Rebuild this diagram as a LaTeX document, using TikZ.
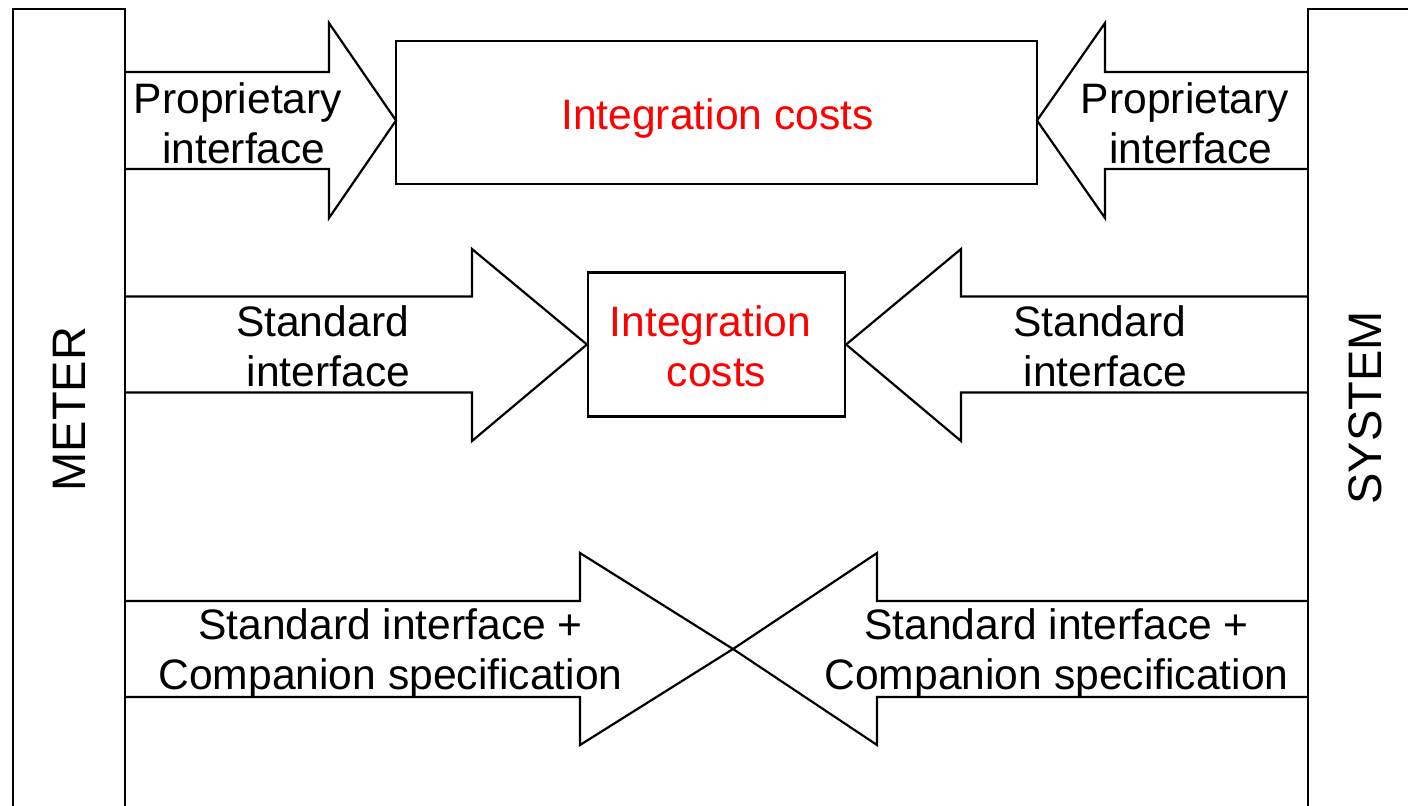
\documentclass[tikz,border=0pt]{standalone}
\usepackage{fontspec}
\setmainfont{Liberation Sans}
\begin{document}
\begin{tikzpicture}[x=0.5pt,y=-0.5pt,line width=1.1pt,line join=miter,
  lbl/.style={font=\fontsize{21.3}{25}\selectfont,align=center,inner sep=0pt,anchor=base},
  cost/.style={lbl,text=red},
  side/.style={font=\fontsize{23.5}{28}\selectfont,rotate=90,inner sep=0pt},
  costbox/.style={draw,inner sep=0pt}]
\useasboundingbox (0,0) rectangle (1408,805);
% bars
\draw (13,808) -- (13,9) -- (125,9) -- (125,808);
\draw (1308,808) -- (1308,9) -- (1412,9);
\node[side] (meter) at (69.5,409) {METER};
\node[side] (system) at (1365.5,408) {SYSTEM};
% row 1
\node[costbox,minimum width=320.5pt,minimum height=71.5pt] (box1) at (716.5,112.5) {};
\node[cost] (cost1) at (717.5,129) {Integration costs};
\coordinate (tip1l) at (396,120.5);
\coordinate (tip1r) at (1037,120.5);
\draw (125,72) -- (329,72) -- (329,23) -- (tip1l) -- (329,218) -- (329,169) -- (125,169);
\draw (1308,72) -- (1105,72) -- (1105,23) -- (tip1r) -- (1105,218) -- (1105,169) -- (1308,169);
\node[lbl] (p1l) at (238,163) {Proprietary\\\hspace*{0.278em}interface};
\node[lbl] (p1r) at (1185,163) {Proprietary\\\hspace*{0.278em}interface};
% row 2
\node[costbox,minimum width=128.5pt,minimum height=72pt] (box2) at (716.5,344.5) {};
\node[cost] (cost2) at (716.5,386) {Integration\hspace*{0.278em}\\costs};
\draw (125,296.5) -- (472,296.5) -- (472,249) -- (box2.west) -- (472,441) -- (472,392.5) -- (125,392.5);
\draw (1308,296.5) -- (961,296.5) -- (961,249) -- (box2.east) -- (961,441) -- (961,392.5) -- (1308,392.5);
\node[lbl] (s2l) at (322.5,386) {Standard\\\hspace*{0.278em}interface};
\node[lbl] (s2r) at (1099.5,386) {Standard\\\hspace*{0.278em}interface};
% row 3
\coordinate (x3) at (733,649);
\draw (125,601) -- (580,601) -- (580,553) -- (x3) -- (580,745) -- (580,697) -- (125,697);
\draw (1308,601) -- (877,601) -- (877,553) -- (x3) -- (877,745) -- (877,697) -- (1308,697);
\node[lbl] (c3l) at (390.5,689) {Standard interface +\\Companion specification};
\node[lbl] (c3r) at (1056.5,689) {Standard interface +\\Companion specification};
\end{tikzpicture}
\end{document}
